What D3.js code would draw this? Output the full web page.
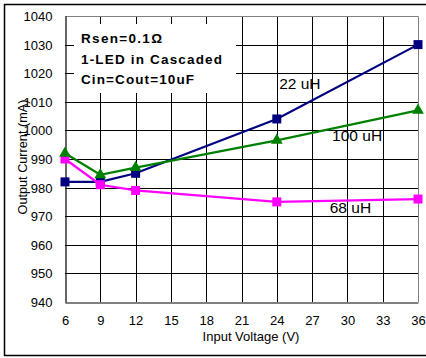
<!DOCTYPE html>
<html>
<head>
<meta charset="utf-8">
<script src="https://cdn.jsdelivr.net/npm/d3@7"></script>
<style>
  body { margin: 0; background: #fff; }
  text { font-family: Arial, "Liberation Sans", sans-serif; }
</style>
</head>
<body>
<svg id="chart" width="426" height="358"></svg>
<script>
// data
const voltages = [6, 9, 12, 24, 36];
const uh22 = [982, 982, 985, 1004, 1030];
const uh68 = [990, 981, 979, 975, 976];
const uh100 = [992, 984.5, 987, 996.5, 1007];
const xTicks = [6, 9, 12, 15, 18, 21, 24, 27, 30, 33, 36];
const yTicks = [940, 950, 960, 970, 980, 990, 1000, 1010, 1020, 1030, 1040];
const noteLines = ["Rsen=0.1Ω", "1-LED in Cascaded", "Cin=Cout=10uF"];
const noteWidths = [81, 141, 113];

const svg = d3.select("#chart");
const plotLeft = 65, plotRight = 418, plotTop = 16, plotBottom = 302;

const x = d3.scaleLinear().domain([6, 36]).range([plotLeft, plotRight]);
const y = d3.scaleLinear().domain([940, 1040]).range([plotBottom, plotTop]);

// outer frame
svg.append("path")
  .attr("d", "M426,4.5 H4.5 V355.5 H426")
  .attr("fill", "none")
  .attr("stroke", "#000")
  .attr("stroke-width", 1.5);

// grid
svg.append("g")
  .selectAll("line")
  .data(yTicks.slice(1, -1))
  .enter()
  .append("line")
  .attr("x1", plotLeft).attr("x2", plotRight)
  .attr("y1", d => Math.round(y(d)) + 0.5).attr("y2", d => Math.round(y(d)) + 0.5)
  .attr("stroke", "#000").attr("stroke-width", 1);

svg.append("g")
  .selectAll("line")
  .data(xTicks.slice(1, -1))
  .enter()
  .append("line")
  .attr("x1", d => Math.round(x(d)) + 0.5).attr("x2", d => Math.round(x(d)) + 0.5)
  .attr("y1", plotTop).attr("y2", plotBottom)
  .attr("stroke", "#000").attr("stroke-width", 1);

// top and right border of plot (gray)
svg.append("path")
  .attr("d", `M${plotLeft},${plotTop + 0.5} H${plotRight + 0.5} V${plotBottom}`)
  .attr("fill", "none").attr("stroke", "#808080").attr("stroke-width", 1);

// note box (white, covers grid)
svg.append("rect")
  .attr("x", 74).attr("y", 24)
  .attr("width", 162).attr("height", 69)
  .attr("fill", "#fff");

svg.append("g")
  .selectAll("text")
  .data(noteLines)
  .enter()
  .append("text")
  .attr("x", 81)
  .attr("y", (d, i) => 43 + i * 20.5)
  .attr("font-size", 13.5)
  .attr("font-weight", "bold")
  .attr("textLength", (d, i) => noteWidths[i])
  .attr("lengthAdjust", "spacing")
  .text(d => d);

// axes
const xAxis = svg.append("g")
  .attr("transform", `translate(0,${plotBottom + 0.5})`)
  .call(d3.axisBottom(x).tickValues(xTicks).tickSize(0).tickPadding(13).tickFormat(d3.format("d")));
const yAxis = svg.append("g")
  .attr("transform", `translate(${plotLeft + 0.5},0)`)
  .call(d3.axisLeft(y).tickValues(yTicks).tickSize(0).tickPadding(13).tickFormat(d3.format("d")));

[xAxis, yAxis].forEach(function(a) {
  a.select(".domain").attr("stroke", "#000").attr("stroke-width", 1.2);
  a.selectAll("text").attr("font-size", 13).attr("fill", "#000")
    .attr("font-family", "Arial, 'Liberation Sans', sans-serif");
});
yAxis.selectAll("text").attr("dy", "0.35em");

// axis titles
svg.append("text")
  .attr("x", 251).attr("y", 341)
  .attr("text-anchor", "middle").attr("font-size", 13)
  .text("Input Voltage (V)");
svg.append("text")
  .attr("transform", "translate(27,157) rotate(-90)")
  .attr("text-anchor", "middle").attr("font-size", 12.7)
  .text("Output Current (mA)");

// series
const series = [
  { name: "22 uH", values: uh22, color: "#000080", marker: "square" },
  { name: "68 uH", values: uh68, color: "#FF00FF", marker: "square" },
  { name: "100 uH", values: uh100, color: "#008000", marker: "triangle" }
];

const line = d3.line()
  .x((d, i) => x(voltages[i]))
  .y(d => y(d));

series.forEach(function(s) {
  svg.append("path")
    .datum(s.values)
    .attr("d", line)
    .attr("fill", "none")
    .attr("stroke", s.color)
    .attr("stroke-width", 2.2);

  const sym = d3.symbol()
    .type(s.marker === "square" ? d3.symbolSquare : d3.symbolTriangle)
    .size(s.marker === "square" ? 81 : 60);

  svg.append("g")
    .selectAll("path")
    .data(s.values)
    .enter()
    .append("path")
    .attr("transform", (d, i) => `translate(${x(voltages[i])},${y(d)})`)
    .attr("d", sym)
    .attr("fill", s.color);
});

// series labels
const labels = [
  { text: "22 uH", v: 24.2, val: 1014.4 },
  { text: "100 uH", v: 28.7, val: 996.4 },
  { text: "68 uH", v: 28.5, val: 971.2 }
];
svg.append("g")
  .selectAll("text")
  .data(labels)
  .enter()
  .append("text")
  .attr("x", d => x(d.v))
  .attr("y", d => y(d.val))
  .attr("font-size", 15.5)
  .text(d => d.text);
</script>
</body>
</html>
